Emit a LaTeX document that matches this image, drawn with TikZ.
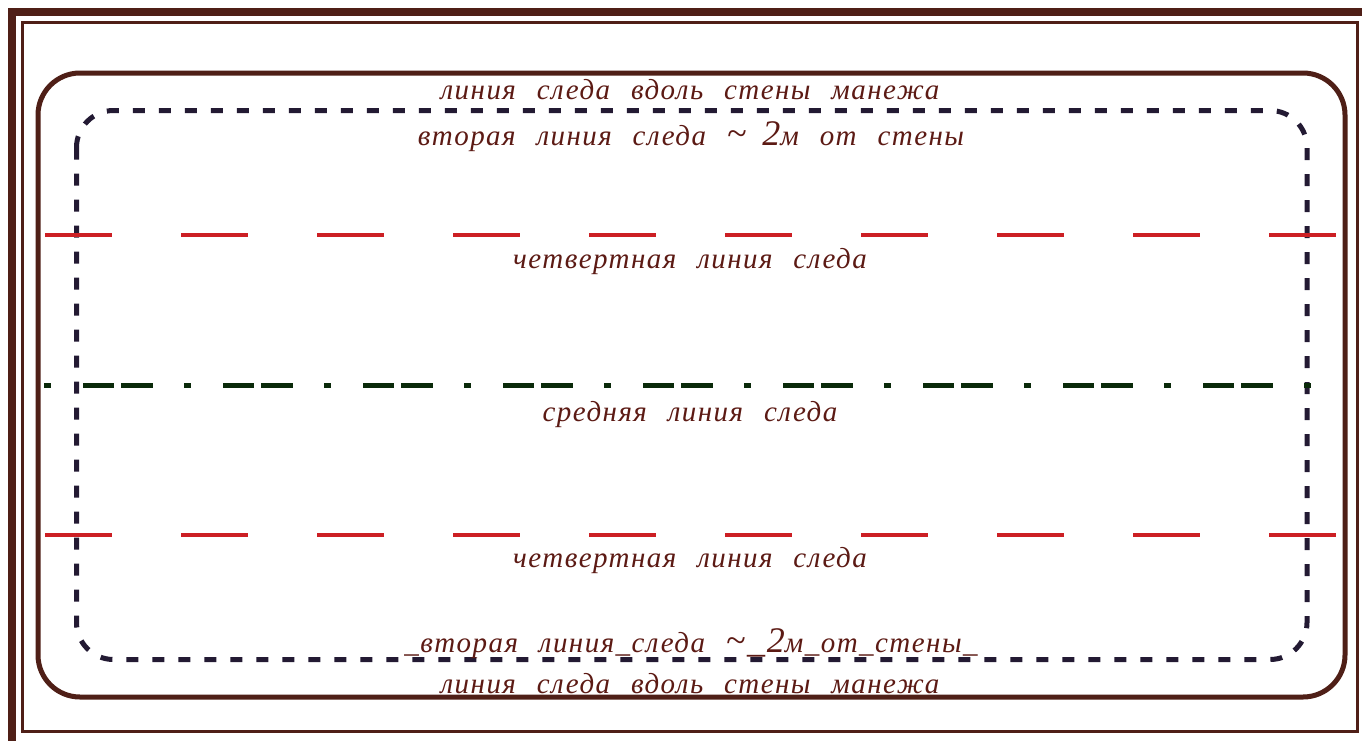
\documentclass[tikz,border=0pt]{standalone}
\usepackage{fontspec}
\setmainfont{Liberation Serif}
\newfontfamily\labfont{Liberation Serif Italic}[LetterSpace=5,WordSpace=2.4]
\definecolor{framebrown}{HTML}{4F1F17}
\definecolor{txtbrown}{HTML}{5C1A14}
\definecolor{navyline}{HTML}{231A33}
\definecolor{redline}{HTML}{CC1F24}
\definecolor{greenline}{HTML}{0A2A0A}
\newcommand{\bigpart}[1]{{\fontsize{36}{36}\selectfont #1}}
\tikzset{
  thickframe/.style={draw=framebrown,line width=8},
  thinframe/.style={draw=framebrown,line width=3},
  wall/.style={draw=framebrown,line width=5,rounded corners=42},
  second/.style={draw=navyline,line width=5,rounded corners=37,dash pattern=on 12 off 14},
  quarter/.style={draw=redline,line width=4,dash pattern=on 67 off 69},
  middle/.style={draw=greenline,line width=5,dash pattern=on 7 off 32 on 31 off 7 on 32 off 31},
  lbl/.style={text=txtbrown,inner sep=0,anchor=base,font=\labfont\fontsize{29}{29}\selectfont}
}
\begin{document}
\begin{tikzpicture}[x=1pt,y=-1pt]
\useasboundingbox (0,0) rectangle (1362,740);
\fill[white] (0,0) rectangle (1362,740);
% frames
\coordinate (of1) at (12,12);
\coordinate (of2) at (1372,752);
\draw[thickframe] (of1) rectangle (of2);
\coordinate (if1) at (22.5,22.5);
\coordinate (if2) at (1357.5,731.5);
\draw[thinframe] (if1) rectangle (if2);
% wall line
\coordinate (w1) at (38,73);
\coordinate (w2) at (1345,697);
\draw[wall] (w1) rectangle (w2);
% second track
\coordinate (s1) at (76.5,110.5);
\coordinate (s2) at (1307,659.5);
\draw[second] (s1) rectangle (s2);
% quarter lines
\coordinate (q1a) at (45,235);
\coordinate (q1b) at (1336,235);
\draw[quarter] (q1a) -- (q1b);
\coordinate (q2a) at (45,535);
\coordinate (q2b) at (1336,535);
\draw[quarter] (q2a) -- (q2b);
% middle line
\coordinate (ma) at (44,385);
\coordinate (mb) at (1315,385);
\draw[middle] (ma) -- (mb);
% labels
\node[lbl] (t1) at (690,99) {линия следа вдоль стены манежа};
\node[lbl] (t2) at (691,145) {вторая линия следа \bigpart{\char"7E\hspace{16pt}2}м от стены};
\node[lbl] (t3) at (690,268) {четвертная линия следа};
\node[lbl] (t4) at (690,421) {средняя линия следа};
\node[lbl] (t5) at (690,567) {четвертная линия следа};
\node[lbl] (t6) at (691,652) {\_вторая линия\_следа \bigpart{\char"7E\_2}м\_от\_стены\_};
\node[lbl] (t7) at (690,693) {линия следа вдоль стены манежа};
\end{tikzpicture}
\end{document}
